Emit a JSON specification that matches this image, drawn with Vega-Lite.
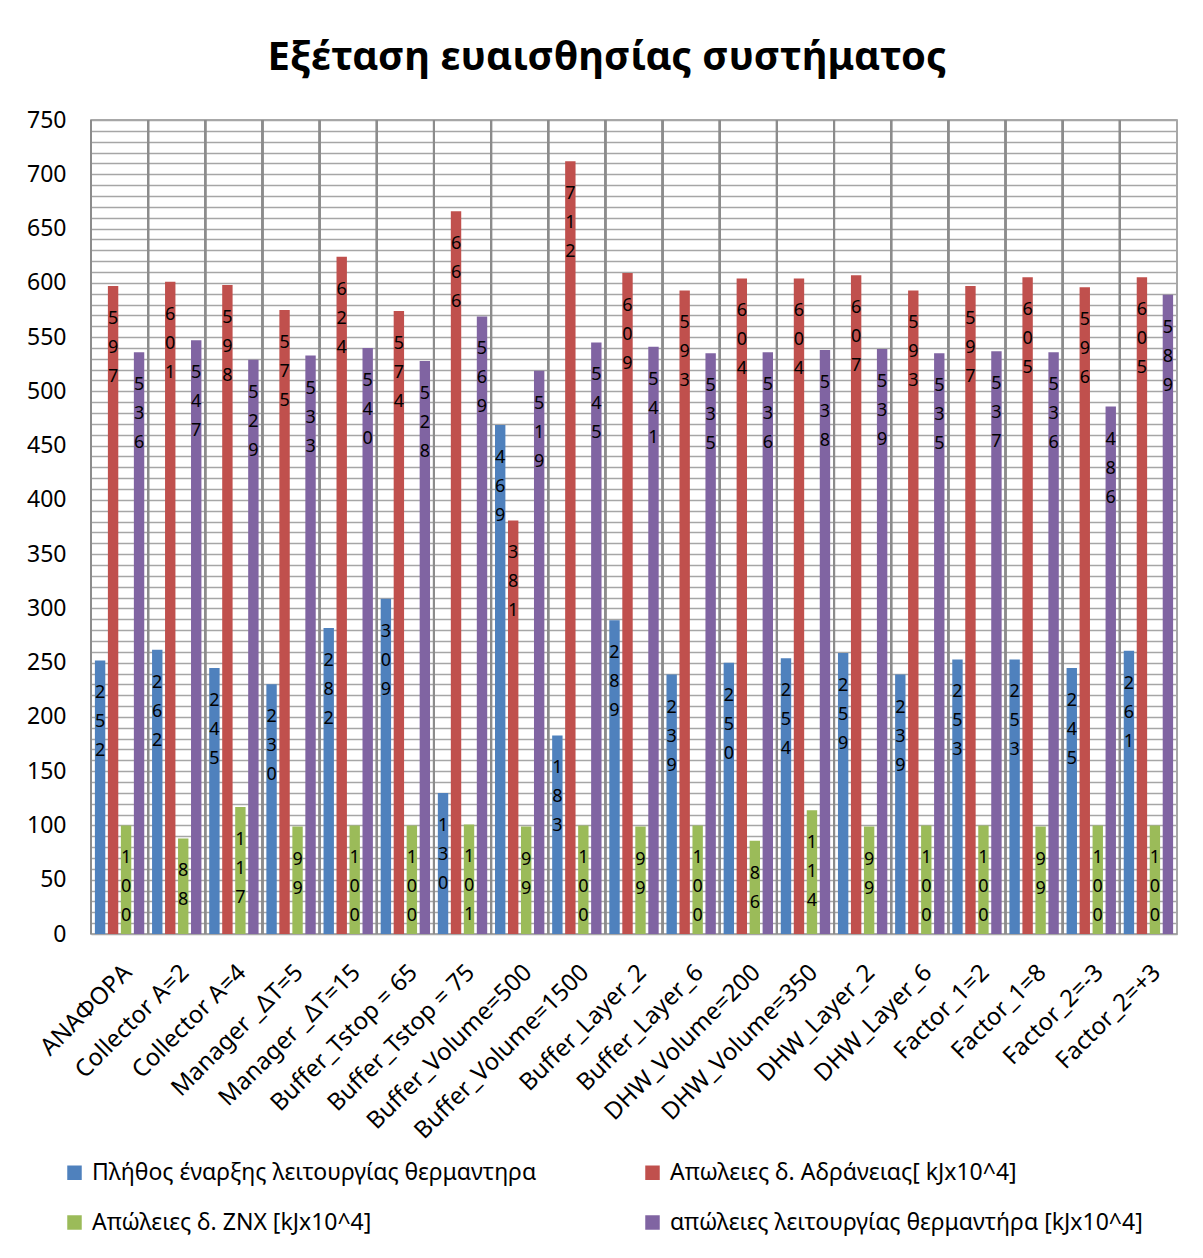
{
  "$schema": "https://vega.github.io/schema/vega-lite/v6.json",
  "autosize": {"type": "none"},
  "width": 1086,
  "height": 814,
  "padding": {"left": 91, "top": 120, "right": 26, "bottom": 324},
  "background": "white",
  "title": {
    "text": "Εξέταση ευαισθησίας συστήματος",
    "font": "Noto Sans",
    "fontSize": 40,
    "fontWeight": "bold",
    "color": "#000000",
    "anchor": "middle",
    "dx": -27,
    "offset": 31
  },
  "config": {
    "font": "Noto Sans",
    "view": {"stroke": "#8c8c8c", "strokeWidth": 1.5},
    "legend": {
      "orient": "none",
      "direction": "horizontal",
      "legendX": -28,
      "legendY": 1041,
      "columns": 2,
      "columnPadding": 104,
      "rowPadding": 26,
      "labelFontSize": 23,
      "labelColor": "#000000",
      "labelFont": "Noto Sans",
      "symbolType": "square",
      "symbolSize": 210,
      "symbolStrokeWidth": 0,
      "labelOffset": 6,
      "labelLimit": 700,
      "title": null
    }
  },
  "data": {
    "values": [
      {"cat": "ΑΝΑΦΟΡΑ", "s": "Πλήθος έναρξης λειτουργίας θερμαντηρα", "v": 252},
      {"cat": "ΑΝΑΦΟΡΑ", "s": "Απωλειες δ. Αδράνειας[ kJx10^4]", "v": 597},
      {"cat": "ΑΝΑΦΟΡΑ", "s": "Απώλειες δ. ΖΝΧ [kJx10^4]", "v": 100},
      {"cat": "ΑΝΑΦΟΡΑ", "s": "απώλειες λειτουργίας θερμαντήρα [kJx10^4]", "v": 536},
      {"cat": "Collector A=2", "s": "Πλήθος έναρξης λειτουργίας θερμαντηρα", "v": 262},
      {"cat": "Collector A=2", "s": "Απωλειες δ. Αδράνειας[ kJx10^4]", "v": 601},
      {"cat": "Collector A=2", "s": "Απώλειες δ. ΖΝΧ [kJx10^4]", "v": 88},
      {"cat": "Collector A=2", "s": "απώλειες λειτουργίας θερμαντήρα [kJx10^4]", "v": 547},
      {"cat": "Collector A=4", "s": "Πλήθος έναρξης λειτουργίας θερμαντηρα", "v": 245},
      {"cat": "Collector A=4", "s": "Απωλειες δ. Αδράνειας[ kJx10^4]", "v": 598},
      {"cat": "Collector A=4", "s": "Απώλειες δ. ΖΝΧ [kJx10^4]", "v": 117},
      {"cat": "Collector A=4", "s": "απώλειες λειτουργίας θερμαντήρα [kJx10^4]", "v": 529},
      {"cat": "Manager _ΔT=5", "s": "Πλήθος έναρξης λειτουργίας θερμαντηρα", "v": 230},
      {"cat": "Manager _ΔT=5", "s": "Απωλειες δ. Αδράνειας[ kJx10^4]", "v": 575},
      {"cat": "Manager _ΔT=5", "s": "Απώλειες δ. ΖΝΧ [kJx10^4]", "v": 99},
      {"cat": "Manager _ΔT=5", "s": "απώλειες λειτουργίας θερμαντήρα [kJx10^4]", "v": 533},
      {"cat": "Manager _ΔT=15", "s": "Πλήθος έναρξης λειτουργίας θερμαντηρα", "v": 282},
      {"cat": "Manager _ΔT=15", "s": "Απωλειες δ. Αδράνειας[ kJx10^4]", "v": 624},
      {"cat": "Manager _ΔT=15", "s": "Απώλειες δ. ΖΝΧ [kJx10^4]", "v": 100},
      {"cat": "Manager _ΔT=15", "s": "απώλειες λειτουργίας θερμαντήρα [kJx10^4]", "v": 540},
      {"cat": "Buffer_Tstop = 65", "s": "Πλήθος έναρξης λειτουργίας θερμαντηρα", "v": 309},
      {"cat": "Buffer_Tstop = 65", "s": "Απωλειες δ. Αδράνειας[ kJx10^4]", "v": 574},
      {"cat": "Buffer_Tstop = 65", "s": "Απώλειες δ. ΖΝΧ [kJx10^4]", "v": 100},
      {"cat": "Buffer_Tstop = 65", "s": "απώλειες λειτουργίας θερμαντήρα [kJx10^4]", "v": 528},
      {"cat": "Buffer_Tstop = 75", "s": "Πλήθος έναρξης λειτουργίας θερμαντηρα", "v": 130},
      {"cat": "Buffer_Tstop = 75", "s": "Απωλειες δ. Αδράνειας[ kJx10^4]", "v": 666},
      {"cat": "Buffer_Tstop = 75", "s": "Απώλειες δ. ΖΝΧ [kJx10^4]", "v": 101},
      {"cat": "Buffer_Tstop = 75", "s": "απώλειες λειτουργίας θερμαντήρα [kJx10^4]", "v": 569},
      {"cat": "Buffer_Volume=500", "s": "Πλήθος έναρξης λειτουργίας θερμαντηρα", "v": 469},
      {"cat": "Buffer_Volume=500", "s": "Απωλειες δ. Αδράνειας[ kJx10^4]", "v": 381},
      {"cat": "Buffer_Volume=500", "s": "Απώλειες δ. ΖΝΧ [kJx10^4]", "v": 99},
      {"cat": "Buffer_Volume=500", "s": "απώλειες λειτουργίας θερμαντήρα [kJx10^4]", "v": 519},
      {"cat": "Buffer_Volume=1500", "s": "Πλήθος έναρξης λειτουργίας θερμαντηρα", "v": 183},
      {"cat": "Buffer_Volume=1500", "s": "Απωλειες δ. Αδράνειας[ kJx10^4]", "v": 712},
      {"cat": "Buffer_Volume=1500", "s": "Απώλειες δ. ΖΝΧ [kJx10^4]", "v": 100},
      {"cat": "Buffer_Volume=1500", "s": "απώλειες λειτουργίας θερμαντήρα [kJx10^4]", "v": 545},
      {"cat": "Buffer_Layer_2", "s": "Πλήθος έναρξης λειτουργίας θερμαντηρα", "v": 289},
      {"cat": "Buffer_Layer_2", "s": "Απωλειες δ. Αδράνειας[ kJx10^4]", "v": 609},
      {"cat": "Buffer_Layer_2", "s": "Απώλειες δ. ΖΝΧ [kJx10^4]", "v": 99},
      {"cat": "Buffer_Layer_2", "s": "απώλειες λειτουργίας θερμαντήρα [kJx10^4]", "v": 541},
      {"cat": "Buffer_Layer_6", "s": "Πλήθος έναρξης λειτουργίας θερμαντηρα", "v": 239},
      {"cat": "Buffer_Layer_6", "s": "Απωλειες δ. Αδράνειας[ kJx10^4]", "v": 593},
      {"cat": "Buffer_Layer_6", "s": "Απώλειες δ. ΖΝΧ [kJx10^4]", "v": 100},
      {"cat": "Buffer_Layer_6", "s": "απώλειες λειτουργίας θερμαντήρα [kJx10^4]", "v": 535},
      {"cat": "DHW_Volume=200", "s": "Πλήθος έναρξης λειτουργίας θερμαντηρα", "v": 250},
      {"cat": "DHW_Volume=200", "s": "Απωλειες δ. Αδράνειας[ kJx10^4]", "v": 604},
      {"cat": "DHW_Volume=200", "s": "Απώλειες δ. ΖΝΧ [kJx10^4]", "v": 86},
      {"cat": "DHW_Volume=200", "s": "απώλειες λειτουργίας θερμαντήρα [kJx10^4]", "v": 536},
      {"cat": "DHW_Volume=350", "s": "Πλήθος έναρξης λειτουργίας θερμαντηρα", "v": 254},
      {"cat": "DHW_Volume=350", "s": "Απωλειες δ. Αδράνειας[ kJx10^4]", "v": 604},
      {"cat": "DHW_Volume=350", "s": "Απώλειες δ. ΖΝΧ [kJx10^4]", "v": 114},
      {"cat": "DHW_Volume=350", "s": "απώλειες λειτουργίας θερμαντήρα [kJx10^4]", "v": 538},
      {"cat": "DHW_Layer_2", "s": "Πλήθος έναρξης λειτουργίας θερμαντηρα", "v": 259},
      {"cat": "DHW_Layer_2", "s": "Απωλειες δ. Αδράνειας[ kJx10^4]", "v": 607},
      {"cat": "DHW_Layer_2", "s": "Απώλειες δ. ΖΝΧ [kJx10^4]", "v": 99},
      {"cat": "DHW_Layer_2", "s": "απώλειες λειτουργίας θερμαντήρα [kJx10^4]", "v": 539},
      {"cat": "DHW_Layer_6", "s": "Πλήθος έναρξης λειτουργίας θερμαντηρα", "v": 239},
      {"cat": "DHW_Layer_6", "s": "Απωλειες δ. Αδράνειας[ kJx10^4]", "v": 593},
      {"cat": "DHW_Layer_6", "s": "Απώλειες δ. ΖΝΧ [kJx10^4]", "v": 100},
      {"cat": "DHW_Layer_6", "s": "απώλειες λειτουργίας θερμαντήρα [kJx10^4]", "v": 535},
      {"cat": "Factor_1=2", "s": "Πλήθος έναρξης λειτουργίας θερμαντηρα", "v": 253},
      {"cat": "Factor_1=2", "s": "Απωλειες δ. Αδράνειας[ kJx10^4]", "v": 597},
      {"cat": "Factor_1=2", "s": "Απώλειες δ. ΖΝΧ [kJx10^4]", "v": 100},
      {"cat": "Factor_1=2", "s": "απώλειες λειτουργίας θερμαντήρα [kJx10^4]", "v": 537},
      {"cat": "Factor_1=8", "s": "Πλήθος έναρξης λειτουργίας θερμαντηρα", "v": 253},
      {"cat": "Factor_1=8", "s": "Απωλειες δ. Αδράνειας[ kJx10^4]", "v": 605},
      {"cat": "Factor_1=8", "s": "Απώλειες δ. ΖΝΧ [kJx10^4]", "v": 99},
      {"cat": "Factor_1=8", "s": "απώλειες λειτουργίας θερμαντήρα [kJx10^4]", "v": 536},
      {"cat": "Factor_2=-3", "s": "Πλήθος έναρξης λειτουργίας θερμαντηρα", "v": 245},
      {"cat": "Factor_2=-3", "s": "Απωλειες δ. Αδράνειας[ kJx10^4]", "v": 596},
      {"cat": "Factor_2=-3", "s": "Απώλειες δ. ΖΝΧ [kJx10^4]", "v": 100},
      {"cat": "Factor_2=-3", "s": "απώλειες λειτουργίας θερμαντήρα [kJx10^4]", "v": 486},
      {"cat": "Factor_2=+3", "s": "Πλήθος έναρξης λειτουργίας θερμαντηρα", "v": 261},
      {"cat": "Factor_2=+3", "s": "Απωλειες δ. Αδράνειας[ kJx10^4]", "v": 605},
      {"cat": "Factor_2=+3", "s": "Απώλειες δ. ΖΝΧ [kJx10^4]", "v": 100},
      {"cat": "Factor_2=+3", "s": "απώλειες λειτουργίας θερμαντήρα [kJx10^4]", "v": 589}
    ]
  },
  "transform": [
    {"calculate": "split(format(datum.v, 'd'), '')", "as": "digits"}
  ],
  "encoding": {
    "x": {
      "field": "cat",
      "type": "nominal",
      "sort": null,
      "scale": {"paddingInner": 0, "paddingOuter": 0},
      "axis": {
        "title": null,
        "labelAngle": -45,
        "labelFontSize": 24,
        "labelColor": "#000000",
        "labelPadding": 26,
        "labelLimit": 400,
        "ticks": false,
        "domain": false,
        "grid": false
      }
    },
    "xOffset": {
      "field": "s",
      "type": "nominal",
      "sort": [
        "Πλήθος έναρξης λειτουργίας θερμαντηρα",
        "Απωλειες δ. Αδράνειας[ kJx10^4]",
        "Απώλειες δ. ΖΝΧ [kJx10^4]",
        "απώλειες λειτουργίας θερμαντήρα [kJx10^4]"
      ],
      "scale": {"paddingInner": 0.2, "paddingOuter": 0.3}
    },
    "y": {
      "field": "v",
      "type": "quantitative",
      "scale": {"domain": [0, 750], "nice": false},
      "axis": {
        "title": null,
        "values": [0,10,20,30,40,50,60,70,80,90,100,110,120,130,140,150,160,170,180,190,200,210,220,230,240,250,260,270,280,290,300,310,320,330,340,350,360,370,380,390,400,410,420,430,440,450,460,470,480,490,500,510,520,530,540,550,560,570,580,590,600,610,620,630,640,650,660,670,680,690,700,710,720,730,740,750],
        "labelExpr": "datum.value % 50 === 0 ? datum.label : ''",
        "labelFontSize": 23,
        "labelColor": "#000000",
        "labelPadding": 25,
        "ticks": false,
        "domain": false,
        "grid": true,
        "gridColor": "#a6a6a6",
        "gridWidth": 1.5
      }
    }
  },
  "layer": [
    {
      "mark": {"type": "bar"},
      "encoding": {
        "color": {
          "field": "s",
          "type": "nominal",
          "scale": {
            "domain": [
              "Πλήθος έναρξης λειτουργίας θερμαντηρα",
              "Απωλειες δ. Αδράνειας[ kJx10^4]",
              "Απώλειες δ. ΖΝΧ [kJx10^4]",
              "απώλειες λειτουργίας θερμαντήρα [kJx10^4]"
            ],
            "range": ["#4F81BD", "#C0504D", "#9BBB59", "#8064A2"]
          }
        }
      }
    },
    {
      "mark": {"type": "rule", "color": "#8c8c8c", "strokeWidth": 2},
      "encoding": {
        "x": {"field": "cat", "type": "nominal", "sort": null, "bandPosition": 0},
        "xOffset": null,
        "y": null
      }
    },
    {
      "mark": {
        "type": "text",
        "baseline": "top",
        "align": "center",
        "dy": 24,
        "fontSize": 18,
        "lineHeight": 29,
        "color": "#000000"
      },
      "encoding": {
        "text": {"field": "digits", "type": "nominal"}
      }
    }
  ]
}
